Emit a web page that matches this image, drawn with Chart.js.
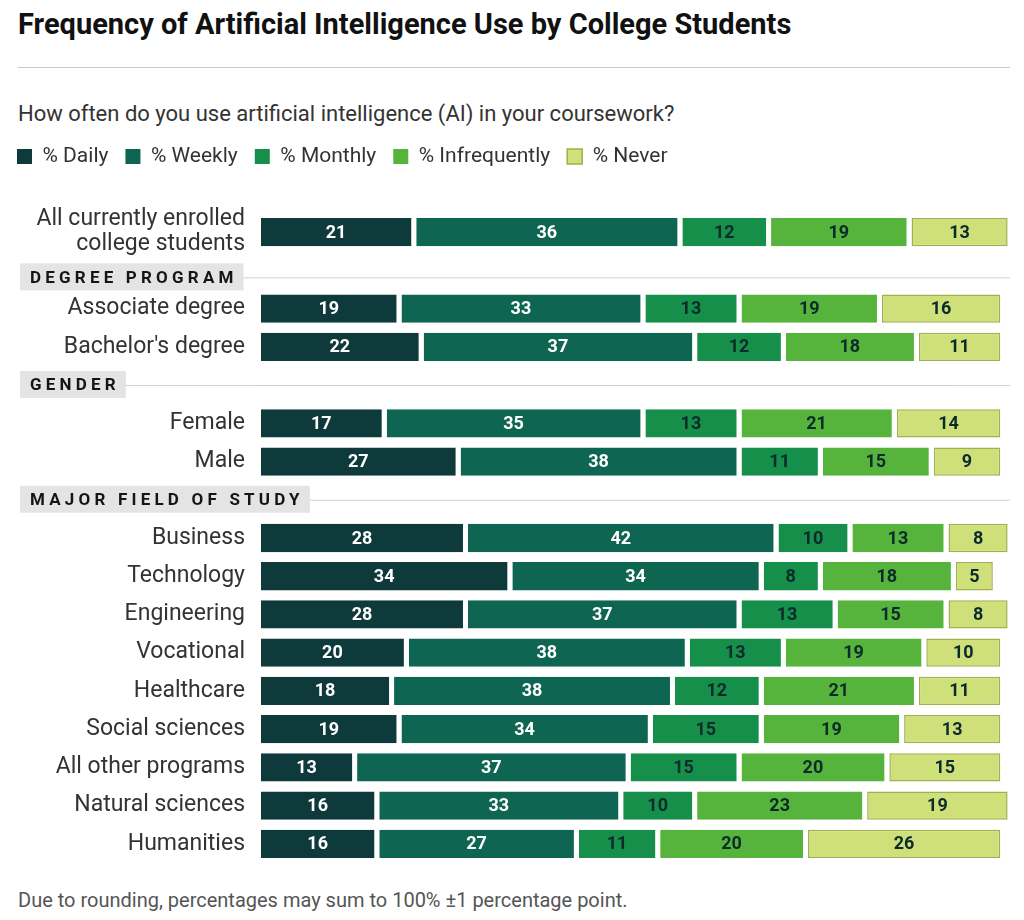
<!DOCTYPE html>
<html>
<head>
<meta charset="utf-8">
<script src="https://cdn.jsdelivr.net/npm/chart.js@4.4.1/dist/chart.umd.min.js"></script>
<style>
  body { margin:0; background:#fff; width:1024px; height:920px; position:relative; font-family:Roboto, "Liberation Sans", sans-serif; overflow:hidden; }
  h1 { position:absolute; left:18px; top:6px; margin:0; font-size:29px; line-height:36px; font-weight:700; color:#111; letter-spacing:0px; }
  .rule { position:absolute; left:18px; top:67px; width:992px; height:1px; background:#c9c9c9; }
  .sub { position:absolute; left:18px; top:101px; font-size:22px; color:#333; }
  .foot { position:absolute; left:18px; top:888px; font-size:20px; color:#555; }
  #wrap { position:absolute; left:0; top:129px; width:1024px; height:750px; }
</style>
</head>
<body>
<h1>Frequency of Artificial Intelligence Use by College Students</h1>
<div class="rule"></div>
<div class="sub">How often do you use artificial intelligence (AI) in your coursework?</div>
<div id="wrap"><canvas id="chart"></canvas></div>
<div class="foot">Due to rounding, percentages may sum to 100% ±1 percentage point.</div>
<script>
// rows, header rows are left empty and get their band drawn by the plugin below
const categories = [
  ['All currently enrolled', 'college students'],
  '', 'Associate degree', "Bachelor's degree",
  '', 'Female', 'Male',
  '', 'Business', 'Technology', 'Engineering', 'Vocational', 'Healthcare',
  'Social sciences', 'All other programs', 'Natural sciences', 'Humanities'
];
const headerRows = [1, 4, 7];
const headerNames = ['DEGREE PROGRAM', 'GENDER', 'MAJOR FIELD OF STUDY'];

const seriesNames = ['% Daily', '% Weekly', '% Monthly', '% Infrequently', '% Never'];
const daily   = [21, null, 19, 22, null, 17, 27, null, 28, 34, 28, 20, 18, 19, 13, 16, 16];
const weekly  = [36, null, 33, 37, null, 35, 38, null, 42, 34, 37, 38, 38, 34, 37, 33, 27];
const monthly = [12, null, 13, 12, null, 13, 11, null, 10,  8, 13, 13, 12, 15, 15, 10, 11];
const infreq  = [19, null, 19, 18, null, 21, 15, null, 13, 18, 15, 19, 21, 19, 20, 23, 20];
const never   = [13, null, 16, 11, null, 14,  9, null,  8,  5,  8, 10, 11, 13, 15, 19, 26];

const colors = ['#0e3a3b', '#0d6552', '#168f4b', '#56b33b', '#cfe07b'];
const labelColors = ['#ffffff', '#ffffff', '#0b2b2b', '#0b2b2b', '#0b2b2b'];
const GAP = 5;
const FONT = 'Roboto, "Liberation Sans", sans-serif';

function seg(i, data) {
  const last = i === 4;
  return {
    label: seriesNames[i],
    data: data,
    backgroundColor: colors[i],
    borderColor: last ? '#9fb04c' : '#ffffff',
    borderWidth: last ? 1.5 : {top: 0, bottom: 0, left: 0, right: GAP},
    borderSkipped: last ? false : 'start',
    barPercentage: 1,
    categoryPercentage: 0.74
  };
}

// section header bands + value labels
const extras = {
  id: 'extras',
  beforeInit(chart) {
    const lg = chart.legend;
    if (lg) {
      const fit = lg.fit;
      lg.fit = function () { fit.call(this); this.height += 36; };
    }
  },
  afterDatasetsDraw(chart) {
    const ctx = chart.ctx;
    const y = chart.scales.y;
    ctx.save();
    // values
    ctx.font = 'bold 18px ' + FONT;
    ctx.textAlign = 'center';
    ctx.textBaseline = 'middle';
    chart.data.datasets.forEach((ds, di) => {
      const meta = chart.getDatasetMeta(di);
      meta.data.forEach((bar, j) => {
        const v = ds.data[j];
        if (v == null) return;
        const left = bar.base, right = bar.x - (di < 4 ? GAP : 0);
        ctx.fillStyle = labelColors[di];
        ctx.fillText(String(v), (left + right) / 2, bar.y + 1);
      });
    });
    // headers
    ctx.font = 'bold 17px ' + FONT;
    ctx.letterSpacing = '4.2px';
    ctx.textAlign = 'left';
    headerRows.forEach((row, k) => {
      const cy = y.getPixelForValue(row) + (k === 0 ? 7 : 0);
      const w = ctx.measureText(headerNames[k]).width;
      const x0 = 20, x1 = x0 + 10 + w + 6;
      ctx.fillStyle = '#e4e4e4';
      ctx.fillRect(x0, cy - 14, x1 - x0, 27);
      ctx.fillStyle = '#151515';
      ctx.fillText(headerNames[k], x0 + 10, cy + 1);
      ctx.strokeStyle = '#d0d0d0';
      ctx.lineWidth = 1;
      ctx.beginPath();
      ctx.moveTo(x1, cy + 0.5);
      ctx.lineTo(1010, cy + 0.5);
      ctx.stroke();
    });
    ctx.restore();
  }
};

new Chart(document.getElementById('chart'), {
  type: 'bar',
  data: {
    labels: categories,
    datasets: [seg(0, daily), seg(1, weekly), seg(2, monthly), seg(3, infreq), seg(4, never)]
  },
  options: {
    indexAxis: 'y',
    responsive: true,
    maintainAspectRatio: false,
    animation: false,
    layout: { padding: { left: 0, right: 9, top: 0, bottom: 16 } },
    scales: {
      x: { stacked: true, display: false, min: 0, max: 102 },
      y: {
        stacked: true,
        grid: { display: false, drawTicks: false },
        border: { display: false },
        ticks: {
          autoSkip: false,
          padding: 16,
          color: '#333',
          font: { size: 23, family: FONT, lineHeight: 1.09 }
        },
        afterFit(s) { s.width = 261; s.paddingTop = 0; s.paddingBottom = 0; }
      }
    },
    plugins: {
      tooltip: { enabled: false },
      legend: {
        position: 'top',
        align: 'start',
        labels: {
          boxWidth: 15,
          boxHeight: 15,
          padding: 17,
          color: '#333',
          font: { size: 21, family: FONT },
          generateLabels(chart) {
            const items = Chart.defaults.plugins.legend.labels.generateLabels(chart);
            items.forEach((it, i) => {
              if (i < 4) { it.lineWidth = 0; it.strokeStyle = colors[i]; }
              else { it.lineWidth = 1.5; it.strokeStyle = '#9fb04c'; }
            });
            return items;
          }
        }
      }
    }
  },
  plugins: [extras]
});
</script>
</body>
</html>
